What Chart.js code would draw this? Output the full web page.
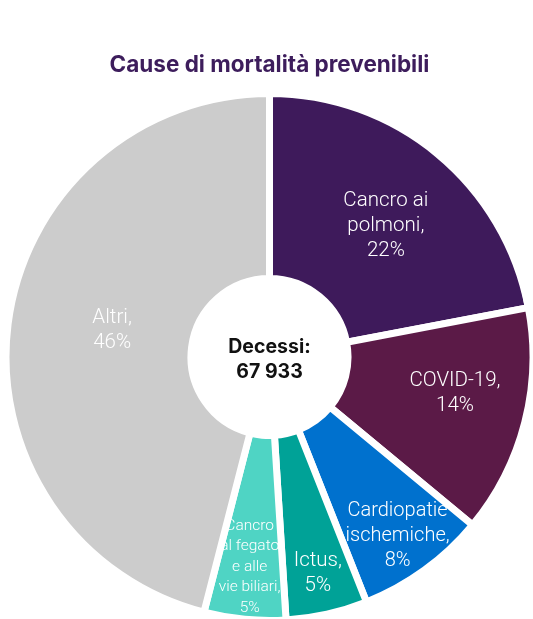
<!DOCTYPE html>
<html>
<head>
<meta charset="utf-8">
<script src="https://cdn.jsdelivr.net/npm/chart.js@4.4.1/dist/chart.umd.min.js"></script>
<style>
html,body{margin:0;padding:0;background:#fff;overflow:hidden;}
#wrap{width:533px;height:619px;position:relative;overflow:hidden;}
#c{position:absolute;left:0;top:0;}
</style>
</head>
<body>
<div id="wrap"><canvas id="c" width="540" height="630"></canvas></div>
<script>
const categories = ["Cancro ai polmoni", "COVID-19", "Cardiopatie ischemiche", "Ictus", "Cancro al fegato e alle vie biliari", "Altri"];
const values = [22, 14, 8, 5, 5, 46];
const sliceLabels = [
  ["Cancro ai", "polmoni,", "22%"],
  ["COVID-19,", "14%"],
  ["Cardiopatie", "ischemiche,", "8%"],
  ["Ictus,", "5%"],
  ["Cancro", "al fegato", "e alle", "vie biliari,", "5%"],
  ["Altri,", "46%"]
];
const colors = ["#3E1A5B", "#5B1A47", "#0071CE", "#00A297", "#4FD4C4", "#CCCCCC"];
const labelRadius = [0.665, 0.717, 0.835, 0.84, 0.80, 0.606];
const labelAngleShift = [2, -3.4, 0.4, 0, 0, 2.5];
const labelFont = [20.5, 20.5, 20, 20.5, 15.5, 20.5];
const labelLine = [25, 25, 25, 25, 20.5, 25];
const totalLabel = ["Decessi:", "67 933"];

const labelPlugin = {
  id: 'sliceLabels',
  afterDatasetsDraw(chart) {
    const ctx = chart.ctx;
    const meta = chart.getDatasetMeta(0);
    meta.data.forEach((arc, i) => {
      const p = arc.getProps(['x','y','startAngle','endAngle','outerRadius'], true);
      const mid = (p.startAngle + p.endAngle) / 2 + labelAngleShift[i] * Math.PI / 180;
      const r = p.outerRadius * labelRadius[i];
      const cx = p.x + Math.cos(mid) * r;
      const cy = p.y + Math.sin(mid) * r;
      const lines = sliceLabels[i];
      ctx.save();
      ctx.fillStyle = '#ffffff';
      ctx.font = '300 ' + labelFont[i] + 'px Roboto, "Liberation Sans", sans-serif';
      ctx.textAlign = 'center';
      ctx.textBaseline = 'middle';
      const lh = labelLine[i];
      const y0 = cy - (lines.length - 1) * lh / 2;
      lines.forEach((t, k) => ctx.fillText(t, cx, y0 + k * lh));
      ctx.restore();
    });
    const a = meta.data[0];
    ctx.save();
    ctx.fillStyle = '#111111';
    ctx.font = 'bold 19.5px Inter, "Liberation Sans", sans-serif';
    ctx.textAlign = 'center';
    ctx.textBaseline = 'middle';
    ctx.fillText(totalLabel[0], a.x, a.y - 10);
    ctx.fillText(totalLabel[1], a.x, a.y + 15);
    ctx.restore();
  }
};

new Chart(document.getElementById('c'), {
  type: 'doughnut',
  data: {
    labels: categories,
    datasets: [{
      data: values,
      backgroundColor: colors,
      borderColor: '#ffffff',
      borderWidth: 7,
      borderAlign: 'center',
      borderJoinStyle: 'miter',
      hoverOffset: 0,
      hoverBorderWidth: 7
    }]
  },
  options: {
    responsive: false,
    animation: false,
    events: [],
    cutout: '29.8%',
    layout: { padding: { top: 0, bottom: 6, left: 2.5, right: 3.5 } },
    plugins: {
      legend: { display: false },
      tooltip: { enabled: false },
      title: {
        display: true,
        text: 'Cause di mortalità prevenibili',
        color: '#3D1D5C',
        font: { family: 'Inter, "Liberation Sans", sans-serif', size: 22.5, weight: 'bold' },
        padding: { top: 51.5, bottom: 11.5 }
      }
    }
  },
  plugins: [labelPlugin]
});
</script>
</body>
</html>
